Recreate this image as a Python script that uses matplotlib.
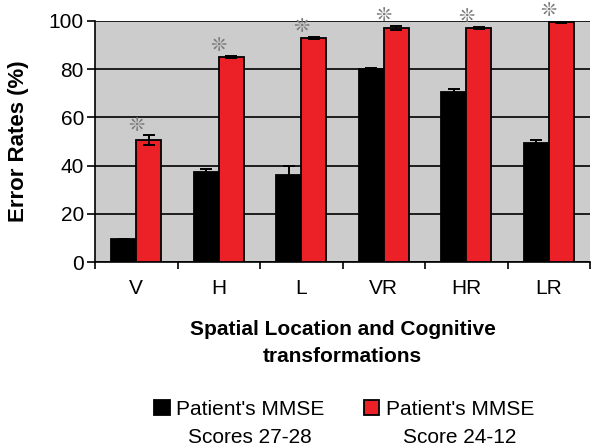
import matplotlib
matplotlib.use('Agg')
import matplotlib.pyplot as plt
import numpy as np

plt.rcParams['font.family'] = ['Liberation Sans', 'DejaVu Sans']

categories = ['V', 'H', 'L', 'VR', 'HR', 'LR']
mmse_high = [9.5, 37.5, 36, 80, 70.3, 49.5]
mmse_high_err = [0, 1.2, 3.7, 0.5, 1.3, 1.3]
mmse_low = [50.5, 85, 93, 97, 97, 99.5]
mmse_low_err = [2, 0.5, 0.4, 1, 0.4, 0.5]
legend_lines = ["Patient's MMSE", "Patient's MMSE"]
legend_sub = ['Scores 27-28', 'Score 24-12']
star = '\u274a'

fig = plt.figure(figsize=(5.92, 4.48), dpi=100)
ax = fig.add_axes([95 / 592, 1 - 262.3 / 448, 495 / 592, (262.3 - 20.7) / 448])
ax.set_facecolor('#cccccc')

x = np.arange(len(categories))
w = 0.303
eb = dict(ecolor='black', elinewidth=1.4, capsize=4, capthick=1.4)
b1 = ax.bar(x - w / 2, mmse_high, w, yerr=mmse_high_err, color='black',
            edgecolor='black', linewidth=1.3, error_kw=eb, zorder=3)
b2 = ax.bar(x + w / 2, mmse_low, w, yerr=mmse_low_err, color='#ec2027',
            edgecolor='black', linewidth=1.3, error_kw=eb, zorder=3)

# significance marks above each pair
for i in range(len(categories)):
    ax.annotate(star, xy=(x[i], mmse_low[i] + mmse_low_err[i]), xytext=(0, 7.5),
                textcoords='offset points', ha='center', va='center',
                fontsize=14, color='#7a7a7a', family=['DejaVu Sans'],
                annotation_clip=False, zorder=4)

ax.set_xlim(-0.5, len(categories) - 0.5)
ax.set_ylim(0, 100)
ax.set_yticks([0, 20, 40, 60, 80, 100])
ax.yaxis.grid(True, color='black', linewidth=1.2, zorder=1)
ax.set_axisbelow(True)
ax.set_xticks(np.arange(-0.5, len(categories)), [])
ax.set_xticks(x, categories, minor=True)
ax.tick_params(axis='x', which='major', length=5, width=1.2, direction='out')
ax.tick_params(axis='x', which='minor', length=0, pad=12, labelsize=15)
ax.tick_params(axis='y', length=6, width=1.2, labelsize=15, pad=2)
for s in ['top', 'right']:
    ax.spines[s].set_visible(False)
for s in ['left', 'bottom']:
    ax.spines[s].set_linewidth(1.2)
ax.set_ylabel('Error Rates (%)', fontsize=16, fontweight='bold')
ax.yaxis.set_label_coords(-0.134, 0.5)

fig.text(342.5 / 592, 1 - 343 / 448, 'Spatial Location and Cognitive\ntransformations',
         ha='center', va='center', fontsize=15, fontweight='bold', linespacing=1.55)

leg = fig.legend([b1, b2], legend_lines, loc='center', ncol=2,
                 bbox_to_anchor=(344 / 592, 1 - 409 / 448), frameon=False,
                 fontsize=15, handlelength=0.75, handleheight=0.75,
                 handletextpad=0.3, columnspacing=1.9, borderpad=0)

fig.canvas.draw()
r = fig.canvas.get_renderer()
for t, sub in zip(leg.get_texts(), legend_sub):
    bb = t.get_window_extent(r)
    cx = (bb.x0 + bb.x1) / 2 / fig.bbox.width
    fig.text(cx, 1 - 437.7 / 448, sub, ha='center', va='center', fontsize=15)

fig.savefig('out.png', dpi=100)
